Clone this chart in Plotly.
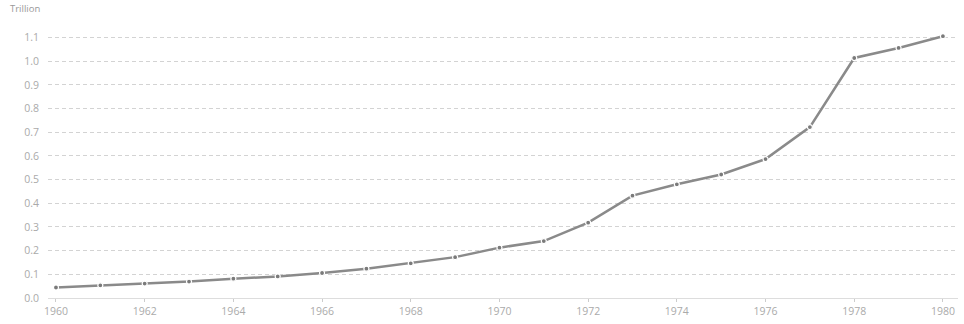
import plotly.graph_objects as go

years = list(range(1960, 1981))
gdp_trillion = [0.0443, 0.0537, 0.0609, 0.0692, 0.0817, 0.0910, 0.1056, 0.1238,
                0.1466, 0.1725, 0.2126, 0.2403, 0.3181, 0.4321, 0.4799, 0.5214,
                0.5866, 0.7216, 1.0134, 1.0557, 1.1054]
x_ticks = list(range(1960, 1981, 2))
y_ticks = [round(i * 0.1, 1) for i in range(12)]

fig = go.Figure()
fig.add_trace(go.Scatter(
    x=years, y=gdp_trillion, mode="lines+markers",
    line=dict(color="#8a8a8a", width=2.5),
    marker=dict(size=5, color="#7a7a7a", line=dict(color="#ffffff", width=1.2)),
    hoverinfo="x+y",
))

font_family = "Open Sans, sans-serif"
fig.update_layout(
    width=964, height=324,
    margin=dict(l=48, r=6, t=28, b=24),
    paper_bgcolor="#ffffff", plot_bgcolor="#ffffff",
    showlegend=False,
    font=dict(family=font_family, size=10.5, color="#aaaaaa"),
    xaxis=dict(
        range=[1959.82, 1980.34],
        tickvals=x_ticks, ticktext=[str(t) for t in x_ticks],
        showgrid=False, zeroline=False,
        showline=True, linecolor="#dddddd", linewidth=1,
        ticks="outside", ticklen=3, tickcolor="#cccccc",
        tickfont=dict(size=10.5, color="#aaaaaa"),
    ),
    yaxis=dict(
        range=[0, 1.14],
        tickvals=y_ticks, ticktext=[f"{v:.1f}" for v in y_ticks],
        showgrid=True, gridcolor="#d3d3d3", griddash="4px,3px", gridwidth=1,
        zeroline=False, showline=False,
        ticks="", ticklabelstandoff=8,
        tickfont=dict(size=10.5, color="#aaaaaa"),
    ),
)
# unit label at the top-left corner, positioned in pixels from the plot area
fig.add_annotation(
    text="Trillion", xref="paper", yref="paper",
    x=-40 / 910, y=1 + 20 / 272, xanchor="left", yanchor="middle",
    showarrow=False, font=dict(size=9.5, color="#999999", family=font_family),
)

fig.write_html("out.html")
